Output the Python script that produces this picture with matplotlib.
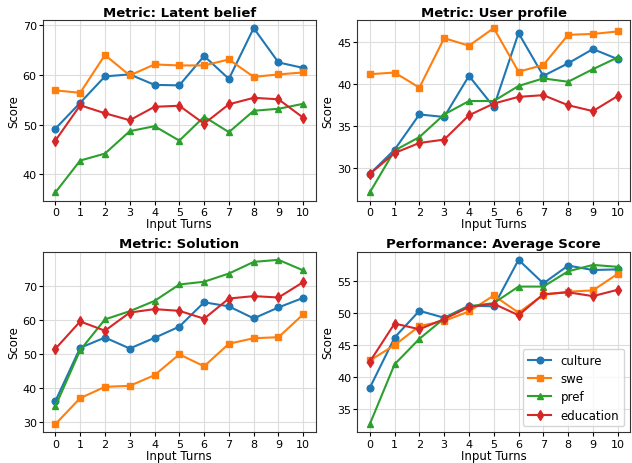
import matplotlib
matplotlib.use("Agg")
from matplotlib import pyplot as plt
import numpy as np

turns = list(range(11))
series = ["culture", "swe", "pref", "education"]
colors = ["#1f77b4", "#ff7f0e", "#2ca02c", "#d62728"]
markers = ["o", "s", "^", "d"]

# Metric: Latent belief
latent_culture = [49.2, 54.4, 59.7, 60.1, 58.0, 57.9, 63.8, 59.2, 69.4, 62.5, 61.4]
latent_swe = [56.9, 56.4, 64.0, 59.9, 62.1, 61.9, 61.9, 63.1, 59.6, 60.1, 60.5]
latent_pref = [36.4, 42.8, 44.2, 48.7, 49.7, 46.8, 51.6, 48.5, 52.8, 53.2, 54.2]
latent_edu = [46.8, 53.9, 52.3, 50.9, 53.6, 53.8, 50.2, 54.1, 55.4, 55.1, 51.4]

# Metric: User profile
user_culture = [29.3, 32.2, 36.4, 36.1, 41.0, 37.3, 46.1, 41.0, 42.5, 44.2, 43.0]
user_swe = [41.2, 41.4, 39.6, 45.5, 44.6, 46.7, 41.5, 42.3, 45.9, 46.0, 46.3]
user_pref = [27.1, 32.1, 33.7, 36.4, 38.0, 38.0, 39.8, 40.7, 40.3, 41.8, 43.2]
user_edu = [29.3, 31.8, 33.0, 33.4, 36.3, 37.7, 38.5, 38.7, 37.5, 36.8, 38.6]

# Metric: Solution
sol_culture = [36.2, 51.8, 54.8, 51.6, 54.7, 58.0, 65.1, 63.9, 60.4, 63.6, 66.4]
sol_swe = [29.5, 37.1, 40.4, 40.7, 43.8, 49.9, 46.4, 53.0, 54.6, 54.9, 61.6]
sol_pref = [34.7, 51.1, 60.1, 62.5, 65.5, 70.3, 71.1, 73.5, 76.9, 77.5, 74.4]
sol_edu = [51.5, 59.5, 56.8, 62.1, 63.1, 62.6, 60.3, 66.2, 66.9, 66.5, 71.0]

# Performance: Average Score
avg_culture = [38.3, 46.2, 50.4, 49.3, 51.2, 51.1, 58.4, 54.7, 57.5, 56.8, 56.9]
avg_swe = [42.6, 45.0, 48.0, 48.8, 50.3, 52.8, 50.1, 52.9, 53.4, 53.6, 56.2]
avg_pref = [32.6, 42.0, 46.0, 49.2, 51.1, 51.6, 54.2, 54.2, 56.6, 57.6, 57.3]
avg_edu = [42.4, 48.4, 47.5, 49.1, 51.0, 51.5, 49.7, 53.0, 53.3, 52.7, 53.7]

# y tick labels shown on each panel
latent_yticks = [40, 50, 60, 70]
user_yticks = [30, 35, 40, 45]
sol_yticks = [30, 40, 50, 60, 70]
avg_yticks = [35, 40, 45, 50, 55]

panels = [
    ("Metric: Latent belief", [latent_culture, latent_swe, latent_pref, latent_edu], latent_yticks),
    ("Metric: User profile", [user_culture, user_swe, user_pref, user_edu], user_yticks),
    ("Metric: Solution", [sol_culture, sol_swe, sol_pref, sol_edu], sol_yticks),
    ("Performance: Average Score", [avg_culture, avg_swe, avg_pref, avg_edu], avg_yticks),
]

fig, axes = plt.subplots(2, 2, figsize=(6.32, 4.64), dpi=100)
fig.subplots_adjust(left=0.068, right=0.997, top=0.955, bottom=0.066,
                    wspace=0.153, hspace=0.282)

for ax, (title, data, yt) in zip(axes.flat, panels):
    for name, vals, c, m in zip(series, data, colors, markers):
        ax.plot(turns, vals, color=c, marker=m, markersize=4.8, linewidth=1.5, label=name)
    ax.set_title(title, fontsize=9.5, fontweight="bold", pad=3)
    ax.set_xlabel("Input Turns", fontsize=8.5, labelpad=0)
    ax.set_ylabel("Score", fontsize=8.5, labelpad=2)
    ax.set_xticks(turns)
    ax.set_yticks(yt)
    ax.tick_params(labelsize=8, length=3, pad=1.5)
    ax.grid(True, color="#dddddd", linewidth=0.8)
    ax.set_axisbelow(True)
    for s in ax.spines.values():
        s.set_color("#333333")

axes[1, 1].legend(loc="lower right", fontsize=8.5, labelspacing=0.45)

plt.savefig("out.png", dpi=100)
